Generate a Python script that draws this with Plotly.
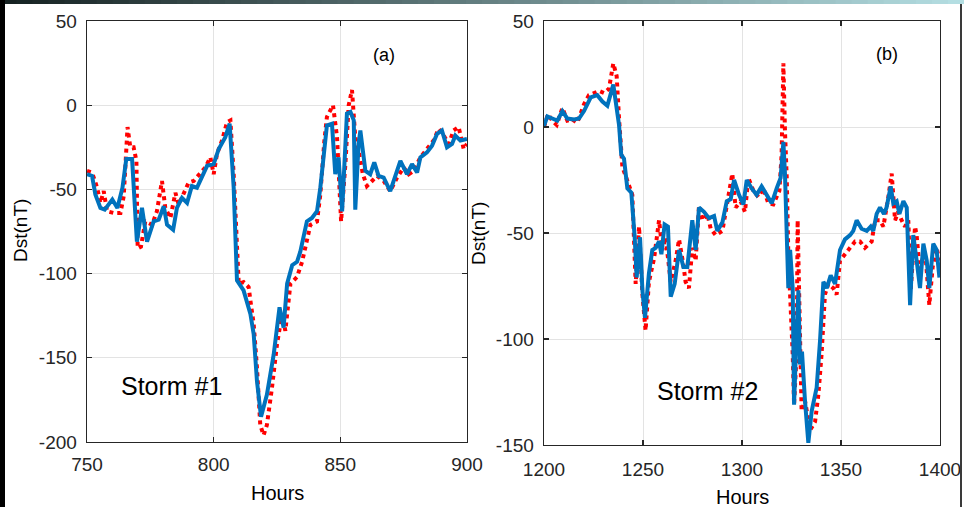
import plotly.graph_objects as go

# ---------------- Data ----------------
# Storm #1  (panel a)
s1_obs_hours = [750, 752, 754, 755.3, 756.6, 757.9, 760.5, 763.2, 764.5, 766, 767.1, 768.4, 769.5, 770,
                771.3, 773, 775.7, 777.6, 779.6, 780.9, 782.9, 784.9, 786.2, 788.2, 790.1, 792.1, 794.7,
                796.7, 798.7, 800, 801.3, 803.3, 805.3, 806.6, 807.9, 809.9, 811.8, 813.8, 814.5, 815.8,
                817.1, 818.4, 819.7, 821, 823, 825, 827, 828.3, 830.3, 832.9, 834.9, 836.8, 838.2, 840.8,
                842.1, 843.7, 844.7, 847.1, 848.7, 850.3, 852, 853.3, 854.6, 855.9, 857.2, 858.9, 860.5,
                862.5, 864.5, 867.1, 869.7, 872.4, 875, 877, 878.9, 881.6, 884.2, 886.8, 888.8, 890.8,
                892.8, 894.7, 896.7, 898.7, 900]
s1_obs_dst = [-39, -40, -49, -58, -51, -63, -64, -64, -54, -13, -25, -25, -33, -85,
              -84, -69, -71, -63, -45, -61, -67, -52, -59, -53, -46, -45, -40,
              -37, -31, -41, -29, -21, -10, -9, -41, -106, -105, -108, -116, -130,
              -156, -190, -196, -190, -168, -142, -124, -134, -106, -102, -93, -79, -71, -69,
              -53, -21, -7, 0, -19, -69, -35, 0, 9, -19, -27, -41, -48,
              -45, -42, -45, -51, -43, -37, -41, -39, -31, -26, -21, -14, -18,
              -23, -15, -13, -26, -23]

s1_pred_hours = [750, 752, 753.3, 755.3, 757, 760, 762, 764, 765.5, 767.8, 769.7, 771.7, 773.7, 776.3,
                 778.3, 780.3, 781.6, 784, 785.5, 787.5, 789.5, 791.4, 793.4, 795.4, 797.4, 800, 802,
                 804.6, 806.3, 807.9, 809.2, 811.8, 814.5, 815.8, 817.1, 818.7, 821, 823.7, 826, 827.6,
                 829, 831, 832.9, 834.2, 836.8, 838.8, 840.8, 842.1, 843.4, 844.7, 846.7, 848, 849.3,
                 850.7, 852.6, 854, 855.3, 855.9, 857.2, 857.9, 859.9, 861.8, 863.4, 865.1, 867.1, 869.7,
                 873.7, 876.3, 878.3, 880.3, 881.6, 884.2, 886.2, 888.2, 890.1, 892.1, 894.1, 895.4,
                 897.4, 900]
s1_pred_dst = [-41, -42, -53, -61, -62, -56, -61, -49, -32, -32, -81, -61, -81, -69,
               -68, -60, -71, -74, -61, -55, -58, -48, -49, -42, -36, -35, -26,
               -19, -11, -49, -104, -110, -124, -136, -164, -185, -172, -148, -120, -132,
               -106, -95, -93, -87, -69, -67, -63, -49, -29, -12, -11, -41, -31,
               -63, -5, -4, -9, -62, -23, -15, -39, -41, -34, -42, -43, -51,
               -33, -41, -35, -40, -31, -28, -24, -17, -15, -25, -23, -18,
               -21, -20]

# Storm #2  (panel b)
s2_obs_hours = [1200, 1202, 1204.2, 1206.4, 1209.3, 1211.8, 1214.3, 1216.8, 1220.2, 1222.7, 1225.3, 1227.8,
                1230.3, 1232.8, 1235, 1236.7, 1237.9, 1239.6, 1241.2, 1242.9, 1244.6, 1246.3, 1248,
                1249.7, 1251.3, 1253, 1255.6, 1258.1, 1259.8, 1261.4, 1264, 1266.5, 1268.2, 1270.4,
                1271.5, 1273.2, 1274.9, 1276.6, 1278.3, 1280, 1282.5, 1284.2, 1286.7, 1290.1, 1292.3,
                1295.1, 1296.8, 1299.3, 1301.5, 1303.2, 1305.7, 1308.3, 1310.8, 1313.3, 1315.8, 1318.9,
                1320, 1320.9, 1321.7, 1322.6, 1323.4, 1324.3, 1325.6, 1326.3, 1327.6, 1328.1, 1328.8,
                1330.1, 1331.8, 1334.4, 1336.9, 1338.6, 1340.2, 1341.9, 1343.6, 1346.1, 1347.8, 1349.5,
                1352, 1354.6, 1357.1, 1359.6, 1362.1, 1365.5, 1367.2, 1369.7, 1371.4, 1373.9, 1375.6,
                1377.3, 1378.9, 1380.6, 1382.3, 1384, 1385.2, 1387.4, 1388.2, 1389.9, 1391.6, 1392.9,
                1394.6, 1396.3, 1398.3, 1399.7]
s2_obs_dst = [0, 6, 3, 1, 9, 3, 3.6, 2, 10.7, 15, 16, 17,
              16, 18, 30, 24, 4, -19, -23, -27, -32, -74, -47,
              -79, -96, -73, -62, -44, -58, -52, -73, -63, -53, -65,
              -73, -76, -57, -63, -37, -44, -41, -48, -51, -49, -38,
              -22, -38, -35, -40, -24, -30, -33, -29, -36, -36.5, -30,
              -13, 30, -2, -24, -60, -76, -107, -131, -107, -44, -74,
              -134, -129, -143, -139, -126, -107, -79, -74, -76, -79, -63,
              -60, -57, -54, -54, -57, -54, -44, -44, -47, -33, -22,
              -44, -40, -44, -47, -44, -77, -47, -51, -69, -60, -63,
              -84, -66, -57, -63]

s2_pred_hours = [1200, 1201.7, 1204.2, 1206.7, 1209.3, 1211.8, 1215.2, 1217.7, 1220.2, 1223.6, 1226.9,
                 1229.5, 1232, 1235, 1237.9, 1239, 1240.4, 1242.1, 1244.1, 1245.8, 1246.8, 1248.5,
                 1249.7, 1251, 1253, 1254.7, 1256.4, 1258.1, 1259.3, 1260.9, 1262.6, 1264, 1266,
                 1268.2, 1270.4, 1272.4, 1274.9, 1276.6, 1278.3, 1280.8, 1283.3, 1285.9, 1287.5,
                 1290.1, 1292.3, 1294.3, 1296, 1298.5, 1300.7, 1302.4, 1304.9, 1307.4, 1309.9, 1312.5,
                 1315, 1317.5, 1319.5, 1320.9, 1321.7, 1323.4, 1324.3, 1325.6, 1326.3, 1327.3, 1328.5,
                 1329.3, 1330.3, 1331.8, 1333.5, 1335.2, 1337.7, 1339.4, 1341.1, 1342.8, 1344.8, 1347,
                 1349.5, 1352, 1354.6, 1356.2, 1357.9, 1360.4, 1363, 1365, 1366.3, 1368, 1369.7, 1371.7,
                 1373, 1375.1, 1376.4, 1378.1, 1379.5, 1381.5, 1383.2, 1384.9, 1386.5, 1388.2, 1389.9,
                 1391.6, 1393.3, 1394.6, 1396.6, 1398.3, 1399.7]
s2_pred_dst = [0.5, 5, 4, 3, 7.5, 4, 3.6, 4, 7.5, 14, 15,
               12, 10, 20, 1, -13, -15, -29, -31, -52, -71, -52,
               -77, -90, -69, -58, -57, -54, -60, -46, -47, -80, -74,
               -58, -66, -66, -44, -58, -38, -40, -43, -42, -49,
               -45, -35, -34, -25, -32, -36.5, -25, -29, -32, -28, -32,
               -36, -29, -24, -7, -22, -76, -58, -76, -131, -104, -77,
               -112, -106, -129, -149, -134, -123, -101, -73, -76, -70, -74,
               -58, -53, -51, -49, -44, -48, -49, -47, -49, -41, -38, -41,
               -38, -28, -36, -35, -41, -35, -38, -84, -51, -63, -76,
               -55, -63, -76, -55, -58, -71]

x1_ticks = [750, 800, 850, 900]
x1_labels = ["750", "800", "850", "900"]
y1_ticks = [50, 0, -50, -100, -150, -200]
y1_labels = ["50", "0", "-50", "-100", "-150", "-200"]
x2_ticks = [1200, 1250, 1300, 1350, 1400]
x2_labels = ["1200", "1250", "1300", "1350", "1400"]
y2_ticks = [50, 0, -50, -100, -150]
y2_labels = ["50", "0", "-50", "-100", "-150"]

# ---------------- Styling ----------------
W, H = 964, 507
FONT = "Liberation Sans, Arial, sans-serif"
INK = "#262626"
GRID = "#e3e3e3"
RED = "#ff0000"
BLUE = "#0072BD"

def px_x(p):
    return p / W

def px_y(p):
    return 1 - p / H

fig = go.Figure()

fig.add_trace(go.Scatter(x=s1_obs_hours, y=s1_obs_dst, mode="lines",
                         line=dict(color=RED, width=4, dash="dot"), xaxis="x", yaxis="y"))
fig.add_trace(go.Scatter(x=s1_pred_hours, y=s1_pred_dst, mode="lines",
                         line=dict(color=BLUE, width=4), xaxis="x", yaxis="y"))
fig.add_trace(go.Scatter(x=s2_obs_hours, y=s2_obs_dst, mode="lines",
                         line=dict(color=RED, width=4, dash="dot"), xaxis="x2", yaxis="y2"))
fig.add_trace(go.Scatter(x=s2_pred_hours, y=s2_pred_dst, mode="lines",
                         line=dict(color=BLUE, width=4), xaxis="x2", yaxis="y2"))

axis_common = dict(showline=True, linecolor=INK, linewidth=1.3, mirror="ticks",
                   ticks="inside", ticklen=5, tickwidth=1.2, tickcolor=INK,
                   showgrid=True, gridcolor=GRID, gridwidth=1, zeroline=False,
                   tickfont=dict(family=FONT, size=19, color=INK), automargin=False,
                   fixedrange=True)

fig.update_layout(
    width=W, height=H,
    margin=dict(l=0, r=0, t=0, b=0),
    paper_bgcolor="white", plot_bgcolor="white",
    showlegend=False,
    template="none",
    xaxis=dict(domain=[px_x(87), px_x(467)], range=[750, 900], tickvals=x1_ticks, ticktext=x1_labels,
               anchor="y", ticklabelstandoff=5, **axis_common),
    yaxis=dict(domain=[px_y(442), px_y(21)], range=[-200, 50], tickvals=y1_ticks, ticktext=y1_labels,
               anchor="x", ticklabelstandoff=5, **axis_common),
    xaxis2=dict(domain=[px_x(544), px_x(940)], range=[1200, 1400], tickvals=x2_ticks, ticktext=x2_labels,
                anchor="y2", ticklabelstandoff=7, **axis_common),
    yaxis2=dict(domain=[px_y(445), px_y(21)], range=[-150, 50], tickvals=y2_ticks, ticktext=y2_labels,
                anchor="x2", ticklabelstandoff=5, **axis_common),
)

# ---------------- Frame decoration (top gradient bar, borders) ----------------
shapes = []
n = 60
c0 = (22, 34, 34)
c1 = (180, 222, 226)
for i in range(n):
    t = i / (n - 1)
    col = tuple(int(c0[k] + (c1[k] - c0[k]) * t) for k in range(3))
    shapes.append(dict(type="rect", xref="paper", yref="paper",
                       x0=i / n, x1=(i + 1) / n + 0.001, y0=px_y(4), y1=1,
                       fillcolor="rgb(%d,%d,%d)" % col, line=dict(width=0), layer="above"))
shapes.append(dict(type="rect", xref="paper", yref="paper", x0=0, x1=px_x(5), y0=0, y1=1,
                   fillcolor="#000000", line=dict(width=0), layer="above"))
shapes.append(dict(type="rect", xref="paper", yref="paper", x0=px_x(960), x1=px_x(962), y0=0, y1=px_y(4),
                   fillcolor="#3a3a3a", line=dict(width=0), layer="above"))
fig.update_layout(shapes=shapes)

# ---------------- Text ----------------
ann = []
def add_text(text, x, y, size, angle=0):
    ann.append(dict(text=text, xref="paper", yref="paper", x=px_x(x), y=px_y(y),
                    xanchor="center", yanchor="middle", showarrow=False, textangle=angle,
                    font=dict(family=FONT, size=size, color="#000000")))

add_text("(a)", 384, 55, 18)
add_text("(b)", 887, 54, 18)
add_text("Storm #1", 171, 386, 25)
add_text("Storm #2", 707, 391, 25)
add_text("Hours", 277, 493, 20)
add_text("Hours", 742, 497, 20)
add_text("Dst(nT)", 20, 231, 19, -90)
add_text("Dst(nT)", 478, 234, 19, -90)
fig.update_layout(annotations=ann)

fig.write_html("out.html",
               config={"displayModeBar": False, "staticPlot": True},
               post_script="document.body.style.margin='0';document.body.style.padding='0';"
                           "document.body.style.overflow='hidden';")
